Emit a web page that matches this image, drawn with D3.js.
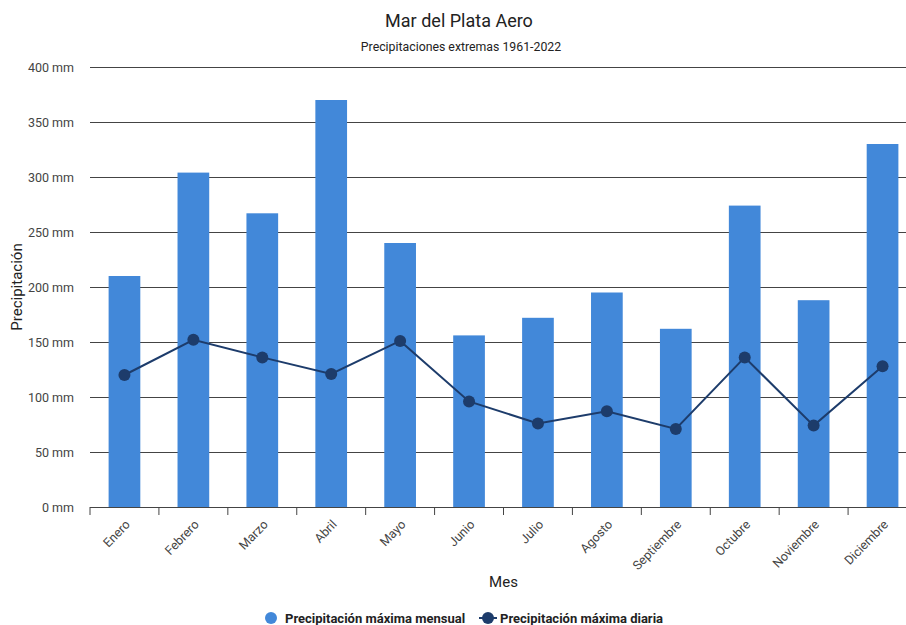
<!DOCTYPE html>
<html>
<head>
<meta charset="utf-8">
<script src="https://cdn.jsdelivr.net/npm/d3@7"></script>
<style>
  body { margin: 0; background: #fff; font-family: Roboto, "Noto Sans", sans-serif; }
</style>
</head>
<body>
<div id="chart"></div>
<script>
const meses = ["Enero", "Febrero", "Marzo", "Abril", "Mayo", "Junio", "Julio", "Agosto", "Septiembre", "Octubre", "Noviembre", "Diciembre"];
const maxMensual = [210, 304, 267, 370, 240, 156, 172, 195, 162, 274, 188, 330];
const maxDiaria = [120, 152, 136, 121, 151, 96, 76, 87, 71, 136, 74, 128];
const yTicks = [0, 50, 100, 150, 200, 250, 300, 350, 400];

const width = 906;
const height = 625;
const margin = { top: 67, right: -11, bottom: 118, left: 90 };

const svg = d3
  .select("#chart")
  .append("svg")
  .attr("width", width)
  .attr("height", height);

const x = d3
  .scaleBand()
  .domain(meses)
  .range([margin.left, width - margin.right])
  .paddingInner(0)
  .paddingOuter(0);

const y = d3
  .scaleLinear()
  .domain([0, 400])
  .range([height - margin.bottom, margin.top]);

// Titulo
svg.append("text")
  .attr("x", 459)
  .attr("y", 27)
  .attr("text-anchor", "middle")
  .attr("font-size", 18)
  .attr("fill", "#222")
  .text("Mar del Plata Aero");

svg.append("text")
  .attr("x", 461)
  .attr("y", 51)
  .attr("text-anchor", "middle")
  .attr("font-size", 12.3)
  .attr("fill", "#222")
  .text("Precipitaciones extremas 1961-2022");

// Grilla y eje Y
const yAxis = svg.append("g")
  .attr("transform", `translate(${margin.left},0)`)
  .call(d3.axisLeft(y).tickValues(yTicks).tickSize(-(width - margin.left)).tickFormat((d) => d + " mm"));
yAxis.select(".domain").remove();
yAxis.selectAll(".tick line").attr("stroke", "#444").attr("stroke-width", 1);
yAxis.selectAll(".tick text")
  .attr("x", -16)
  .attr("font-size", 12.5)
  .attr("font-family", "Roboto, sans-serif")
  .attr("fill", "#444");

// Barras
svg.append("g")
  .selectAll("rect")
  .data(meses)
  .join("rect")
  .attr("x", (d) => x(d) + x.bandwidth() * 0.27)
  .attr("width", x.bandwidth() * 0.46)
  .attr("y", (d, i) => y(maxMensual[i]))
  .attr("height", (d, i) => y(0) - y(maxMensual[i]))
  .attr("fill", "#4288d9");

// Eje X
const xAxis = svg.append("g")
  .attr("transform", `translate(0,${y(0)})`)
  .call(d3.axisBottom(x).tickSizeOuter(0).tickSize(0));
xAxis.select(".domain").attr("stroke", "#444");
xAxis.selectAll(".tick line").remove();
xAxis.selectAll(".tick text")
  .attr("font-size", 12.5)
  .attr("font-family", "Roboto, sans-serif")
  .attr("fill", "#444")
  .attr("text-anchor", "end")
  .attr("transform", "translate(1,13) rotate(-46)")
  .attr("dy", "0.35em");

// marcas entre categorias
const bordes = meses.map((m) => x(m));
svg.append("g")
  .selectAll("line")
  .data(bordes)
  .join("line")
  .attr("x1", (d) => d)
  .attr("x2", (d) => d)
  .attr("y1", y(0))
  .attr("y2", y(0) + 8)
  .attr("stroke", "#444");

// Linea diaria
const linea = d3.line()
  .x((d, i) => x(meses[i]) + x.bandwidth() / 2)
  .y((d) => y(d));

svg.append("path")
  .datum(maxDiaria)
  .attr("fill", "none")
  .attr("stroke", "#1d3c6b")
  .attr("stroke-width", 2)
  .attr("d", linea);

svg.append("g")
  .selectAll("circle")
  .data(maxDiaria)
  .join("circle")
  .attr("cx", (d, i) => x(meses[i]) + x.bandwidth() / 2)
  .attr("cy", (d) => y(d))
  .attr("r", 6)
  .attr("fill", "#1d3c6b");

// Titulos de ejes
svg.append("text")
  .attr("x", (margin.left + width - margin.right) / 2)
  .attr("y", 587)
  .attr("text-anchor", "middle")
  .attr("font-size", 15)
  .attr("fill", "#222")
  .text("Mes");

svg.append("text")
  .attr("transform", `translate(22,${(y(0) + y(400)) / 2}) rotate(-90)`)
  .attr("text-anchor", "middle")
  .attr("font-size", 15)
  .attr("fill", "#222")
  .text("Precipitación");

// Leyenda
const ley = svg.append("g").attr("font-size", 13).attr("font-weight", "bold").attr("fill", "#222");
ley.append("circle").attr("cx", 271).attr("cy", 618).attr("r", 6).attr("fill", "#4288d9");
ley.append("text").attr("x", 285).attr("y", 622.5).text("Precipitación máxima mensual");
ley.append("line").attr("x1", 479).attr("x2", 497).attr("y1", 618).attr("y2", 618).attr("stroke", "#1d3c6b").attr("stroke-width", 2);
ley.append("circle").attr("cx", 488).attr("cy", 618).attr("r", 6).attr("fill", "#1d3c6b");
ley.append("text").attr("x", 500).attr("y", 622.5).text("Precipitación máxima diaria");
</script>
</body>
</html>
